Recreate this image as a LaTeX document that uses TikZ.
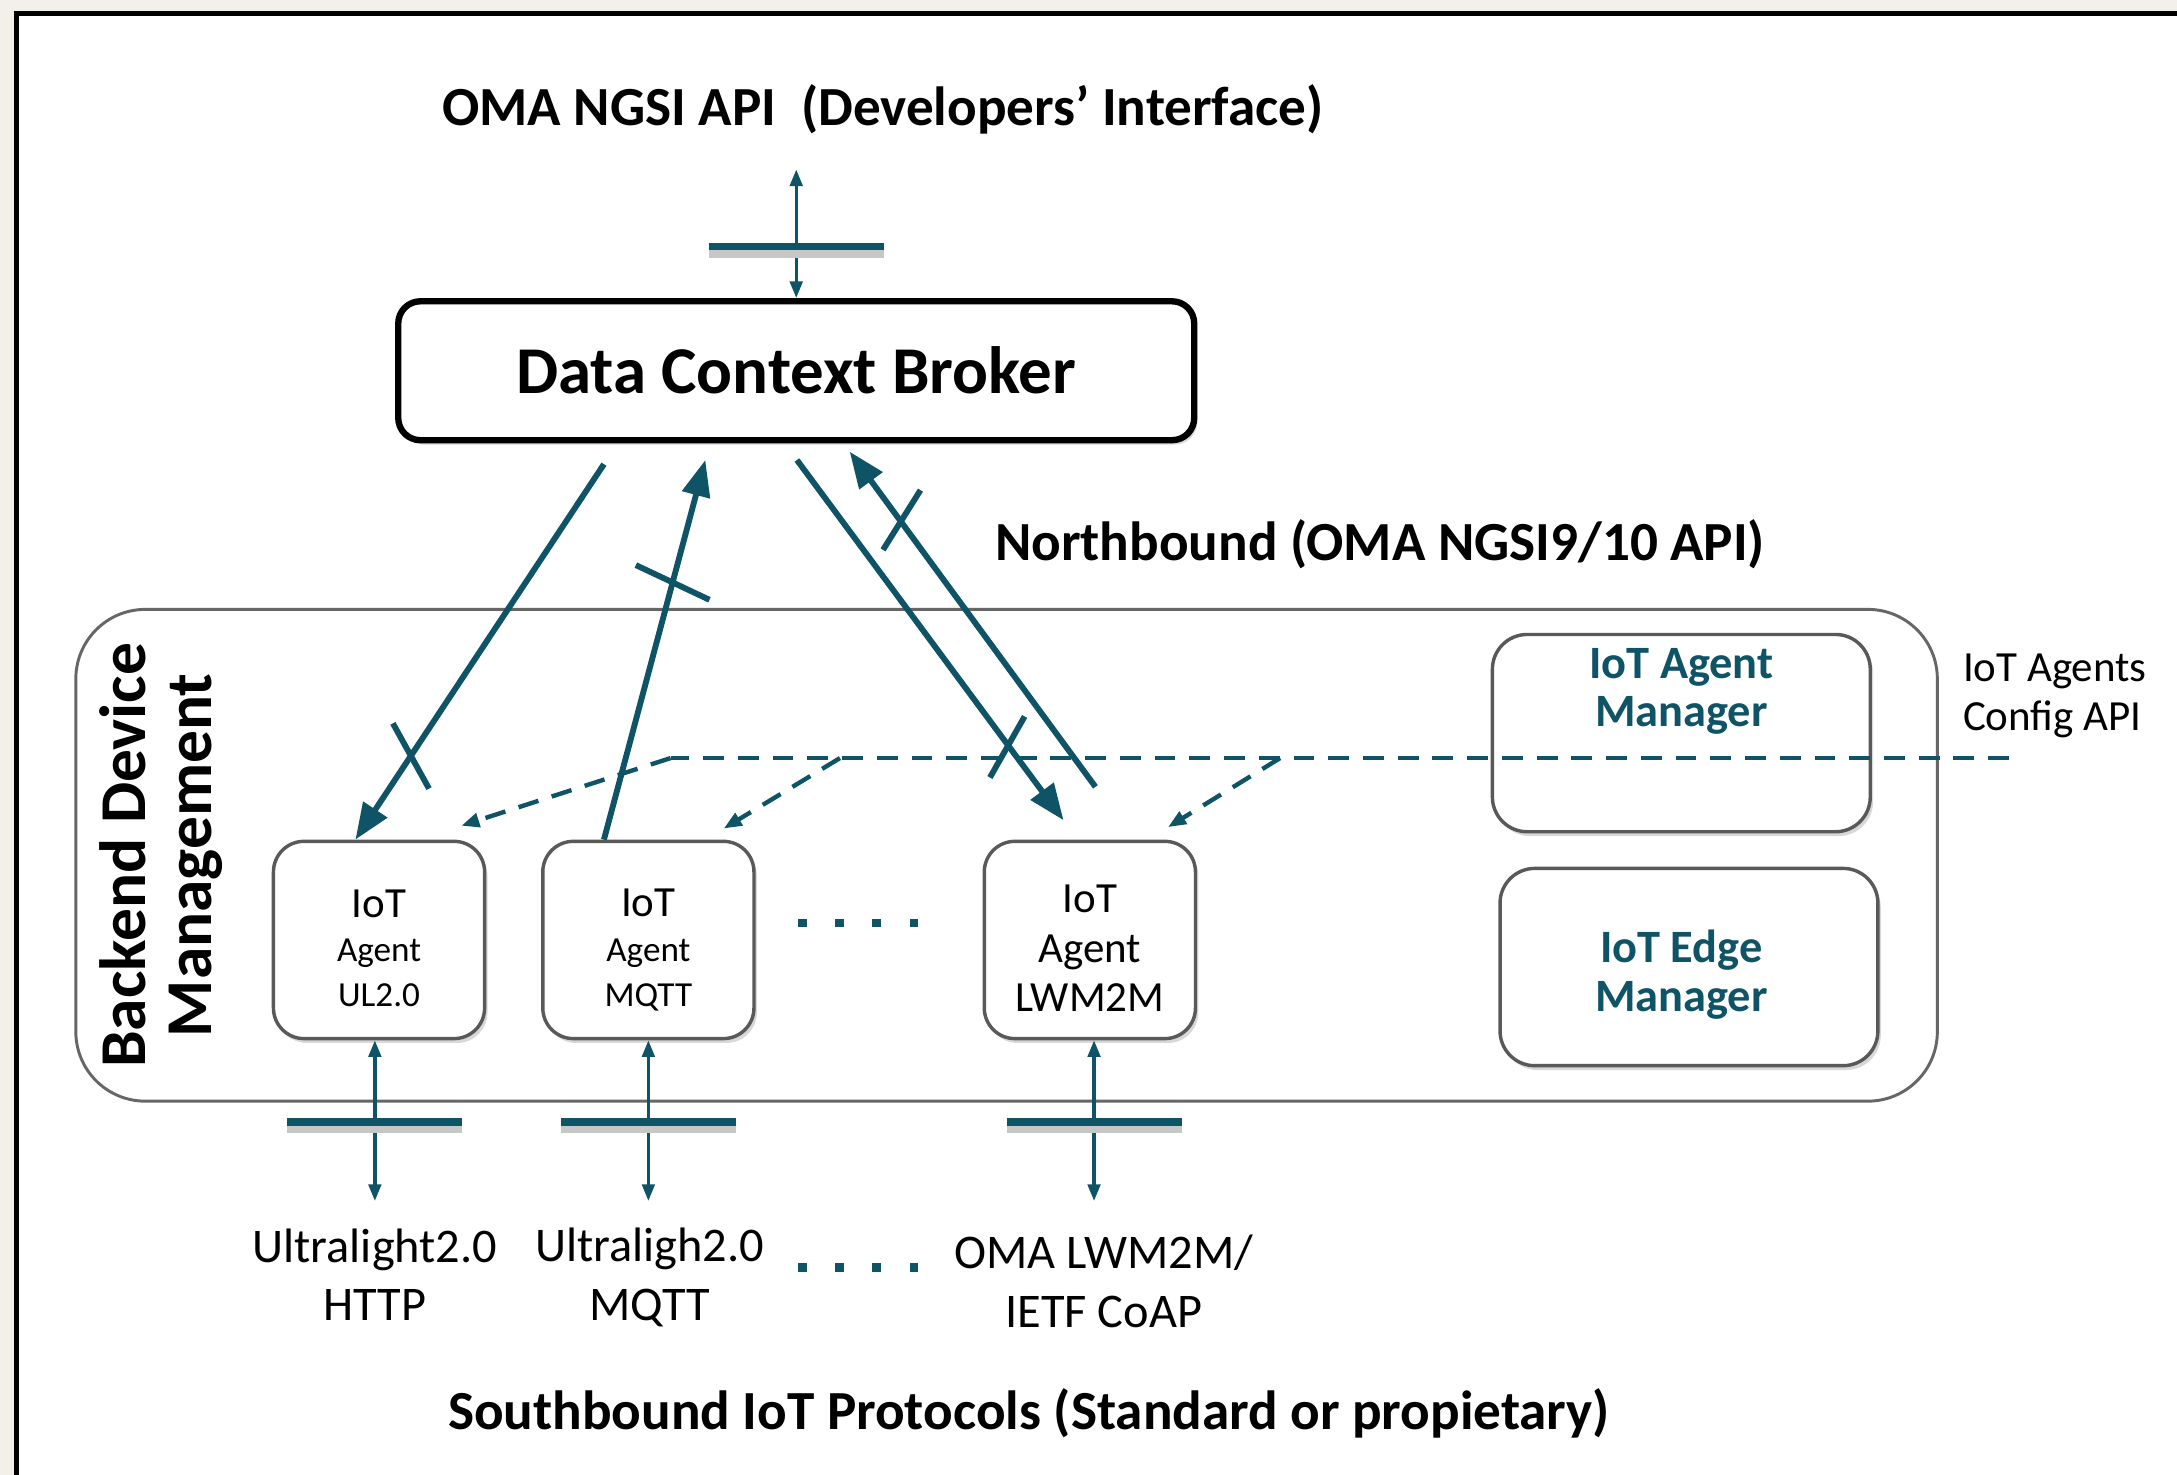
\documentclass[tikz,border=0pt]{standalone}
\usepackage{fontspec}
\setmainfont{Carlito}
\usetikzlibrary{arrows.meta, positioning, calc, shadows}
\definecolor{fiteal}{RGB}{14,84,102}
\definecolor{paper}{RGB}{243,240,233}

\begin{document}
\begin{tikzpicture}[
  x=0.01cm, y=-0.01cm,
  softshadow/.style={drop shadow={shadow xshift=0.6pt, shadow yshift=-0.9pt, opacity=0.3}},
  broker/.style={draw, line width=1.3pt, rounded corners=0.16cm, minimum width=5.73cm, minimum height=1cm, fill=white, softshadow, font=\fontsize{13.7}{15}\selectfont\bfseries},
  agent/.style={draw=black!65, line width=0.7pt, rounded corners=0.22cm, minimum width=1.52cm, minimum height=1.42cm, fill=white, softshadow},
  mgr/.style={draw=black!65, line width=0.7pt, rounded corners=0.25cm, minimum width=2.72cm, minimum height=1.42cm, fill=white, softshadow},
  container/.style={draw=black!60, line width=0.6pt, rounded corners=0.5cm, minimum width=13.4cm, minimum height=3.54cm},
  heading/.style={font=\fontsize{11.3}{13}\selectfont\bfseries},
  smalltext/.style={align=center, font=\fontsize{7.2}{9.2}\selectfont},
  agenttext/.style={align=center, font=\fontsize{8.8}{10.1}\selectfont},
  mgrtext/.style={align=center, text=fiteal, font=\fontsize{9.5}{10}\selectfont\bfseries},
  proto/.style={align=center, font=\fontsize{9.9}{12}\selectfont},
  arr/.style={-{Triangle[length=0.26cm, width=0.2cm]}, line width=1.2pt, fiteal},
  slashmark/.style={line width=1.2pt, fiteal},
  thinarr/.style={{Triangle[length=0.12cm, width=0.09cm]}-{Triangle[length=0.12cm, width=0.09cm]}, line width=0.7pt, fiteal},
  bar/.style={line width=1.5pt, fiteal, preaction={draw=black!22, line width=2pt, transform canvas={yshift=-1.3pt}}},
  cfgline/.style={line width=0.9pt, fiteal, dash pattern=on 0.15cm off 0.1cm},
  cfgarr/.style={cfgline, -{Triangle[length=0.13cm, width=0.1cm]}}
]
\useasboundingbox (0,0) rectangle (1568,1062);
\fill[paper] (0,0) rectangle (1568,1062);
\fill[white] (12,10) rectangle (1568,1062);
\draw[line width=1.05pt] (11.9,1062) -- (11.9,9.8) -- (1568,9.8);

\node[heading] (api) at (636,79) {OMA NGSI API~~(Developers’ Interface)};
\node[broker] (broker) at (573.5,267) {Data Context Broker};
\node[heading] (north) at (994,392) {Northbound (OMA NGSI9/10 API)};

\node[container] (bdm) at (725,616) {};
\node[rotate=90, align=center, font=\fontsize{13.4}{13.6}\selectfont\bfseries] (bdmtext) at (116,616) {Backend Device\\Management};

\node[agent] (ul) at (273,677) {};
\node[agent] (mqtt) at (467,677) {};
\node[agent] (lw) at (785,677) {};
\node[smalltext] (ultext) at (273,683) {{\fontsize{8.8}{9.2}\selectfont IoT}\\Agent\\UL2.0};
\node[smalltext] (mqtttext) at (467,684) {{\fontsize{8.8}{9.2}\selectfont IoT}\\Agent\\MQTT};
\node[agenttext] (lwtext) at (785,683) {IoT\\Agent\\LWM2M};

\node[mgr] (agm) at (1211,528) {};
\node[mgrtext] (agmtext) at (1211,498) {IoT Agent\\Manager};
\node[mgr] (edge) at (1216.5,696.5) {};
\node[mgrtext] (edgetext) at (1211,702) {IoT Edge\\Manager};
\node[align=left, font=\fontsize{8.8}{10}\selectfont] (cfgapi) at (1480,501) {IoT Agents\\Config API};

\foreach \i in {0,...,3} {
  \fill[fiteal] (575+26.7*\i,662) rectangle ++(6,6);
  \fill[fiteal] (575+26.7*\i,910) rectangle ++(6,6);
}

\coordinate (apitop) at (573.5,122);
\draw[thinarr] (apitop) -- (broker.north);
\draw[bar] ($(apitop)!0.6!(broker.north)$) ++(-63,0) -- ++(126,0);

\draw[arr] ($(broker.south)+(-138.5,15)$) -- ($(ul.north)+(-17,0)$);
\draw[arr] ($(mqtt.north)+(-32,0)$) -- ($(broker.south)+(-65.5,12)$);
\draw[arr] ($(broker.south)+(0.5,12)$) -- ($(lw.north)+(-19,-14)$);
\draw[arr] ($(lw.north)+(4,-38)$) -- ($(broker.south)+(38.5,6)$);
\draw[slashmark] (283,521) -- (309,568);
\draw[slashmark] (458,407) -- (511,432);
\draw[slashmark] (738,516) -- (713,560);
\draw[slashmark] (663,353) -- (636,396);

\coordinate (cfgend) at (1447,546);
\coordinate (j1) at (483,546);
\coordinate (j2) at (605,546);
\coordinate (j3) at (922,546);
\draw[cfgline] (cfgend) -- (j1);
\draw[cfgarr] (j1) -- ($(ul.north east)+(-18,-10)$);
\draw[cfgarr] (j2) -- ($(mqtt.north east)+(-23,-8)$);
\draw[cfgarr] (j3) -- ($(lw.north east)+(-21,-9)$);

\coordinate (ulp) at (270,865);
\coordinate (mqttp) at (467,865);
\coordinate (lwp) at (788,865);
\draw[thinarr] (ul.south -| ulp) -- (ulp);
\draw[thinarr] (mqtt.south -| mqttp) -- (mqttp);
\draw[thinarr] (lw.south -| lwp) -- (lwp);
\draw[bar] (270,808) ++(-63,0) -- ++(126,0);
\draw[bar] (467,808) ++(-63,0) -- ++(126,0);
\draw[bar] (788,808) ++(-63,0) -- ++(126,0);

\node[proto] (ulproto) at (270,918) {Ultralight2.0\\HTTP};
\node[proto] (mqttproto) at (468,920) {Ultraligh2.0\\MQTT};
\node[proto] (lwproto) at (795,923) {OMA LWM2M/\\IETF CoAP};
\node[heading] (south) at (741,1018) {Southbound IoT Protocols (Standard or propietary)};
\end{tikzpicture}
\end{document}
